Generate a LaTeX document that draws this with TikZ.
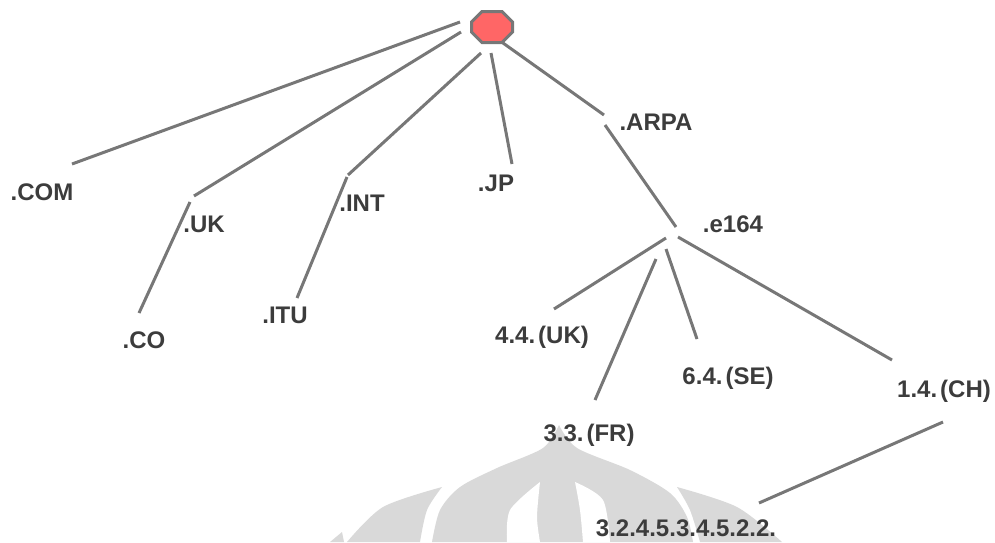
\documentclass[tikz,border=0pt]{standalone}
\usepackage{fontspec}
\setmainfont{Liberation Sans}
\definecolor{linegray}{HTML}{777777}
\definecolor{txtgray}{HTML}{3C3C3C}
\definecolor{wmgray}{HTML}{D9D9D9}
\definecolor{rootred}{HTML}{FF6666}
\begin{document}
\begin{tikzpicture}[x=1pt,y=-1pt,
  lbl/.style={text=txtgray,font=\fontsize{24}{27}\selectfont\bfseries,inner sep=0pt},
  edge/.style={draw=linegray,line width=3pt},
  rootbox/.style={minimum width=44pt,minimum height=33pt,inner sep=0pt},
  octa/.style={draw=linegray,line width=3pt,fill=rootred,line join=miter},
  wm/.style={fill=wmgray},
  wmhole/.style={fill=white}]
\useasboundingbox (0,0) rectangle (995,542);

% watermark
\fill[wm] plot[smooth] coordinates {(432,542) (440,510) (460,487) (497,468) (543,448) (559,425)}
  -- plot[smooth] coordinates {(559,425) (577,448) (630,470) (670,493) (687,517) (693,542)} -- cycle;
\fill[wmhole] plot[smooth] coordinates {(507,542) (510,510) (540,482)}
  -- plot[smooth] coordinates {(540,482) (537,517) (540,542)} -- cycle;
\fill[wmhole] plot[smooth] coordinates {(583,542) (580,510) (575,482)}
  -- plot[smooth] coordinates {(575,482) (603,500) (610,542)} -- cycle;
\fill[wm] plot[smooth] coordinates {(347,542) (383,507) (442,487)}
  -- plot[smooth] coordinates {(442,487) (427,510) (420,542)} -- cycle;
\fill[wm] plot[smooth] coordinates {(700,542) (690,510) (677,487)}
  -- plot[smooth] coordinates {(677,487) (737,507) (782,542)} -- cycle;
\fill[wm] (330,542) -- (342,532) -- (344,542) -- cycle;

% root
\node[rootbox] (root) at (492,27) {};
\draw[octa,shift={(root)}] (-10,-15.5) -- (10,-15.5) -- (20.5,-5) -- (20.5,5)
  -- (10,15.5) -- (-10,15.5) -- (-20.5,5) -- (-20.5,-5) -- cycle;

% labels
\node[lbl] (com) at (42,192) {.COM};
\node[lbl] (uk) at (204,224) {.UK};
\node[lbl] (co) at (144,340) {.CO};
\node[lbl] (int) at (362,203) {.INT};
\node[lbl] (itu) at (285,315) {.ITU};
\node[lbl] (jp) at (496,183) {.JP};
\node[lbl] (arpa) at (656,122) {.ARPA};
\node[lbl] (e164) at (733,224) {.e164};
\node[lbl] (ukf) at (542,337) {4.4.\hspace{3pt}(UK)};
\node[lbl] (se) at (728,378) {6.4.\hspace{3pt}(SE)};
\node[lbl] (ch) at (944,391) {1.4.\hspace{3pt}(CH)};
\node[lbl] (fr) at (589,435) {3.3.\hspace{3pt}(FR)};
\node[lbl] (num) at (686,528) {3.2.4.5.3.4.5.2.2.};

% connector end points
\coordinate (comA) at (460,22);  \coordinate (comB) at (72,164);
\coordinate (ukA) at (461,32);   \coordinate (ukB) at (194,196);
\coordinate (intA) at (481,53);  \coordinate (intB) at (348,175);
\coordinate (jpA) at (491,53);   \coordinate (jpB) at (512,164);
\coordinate (arA) at (503,43);   \coordinate (arB) at (604,115);
\coordinate (eA) at (605,125);   \coordinate (eB) at (676,227);
\coordinate (u4A) at (666,238);  \coordinate (u4B) at (554,309);
\coordinate (frA) at (656,259);  \coordinate (frB) at (595,400);
\coordinate (seA) at (666,249);  \coordinate (seB) at (697,339);
\coordinate (chA) at (678,237);  \coordinate (chB) at (892,360);
\coordinate (nA) at (943,422);   \coordinate (nB) at (759,503);
\coordinate (coA) at (190,202);  \coordinate (coB) at (139,313);
\coordinate (ituA) at (347,177); \coordinate (ituB) at (297,298);

% connectors
\draw[edge] (comA) -- (comB);
\draw[edge] (ukA) -- (ukB);
\draw[edge] (intA) -- (intB);
\draw[edge] (jpA) -- (jpB);
\draw[edge] (arA) -- (arB);
\draw[edge] (eA) -- (eB);
\draw[edge] (u4A) -- (u4B);
\draw[edge] (frA) -- (frB);
\draw[edge] (seA) -- (seB);
\draw[edge] (chA) -- (chB);
\draw[edge] (nA) -- (nB);
\draw[edge] (coA) -- (coB);
\draw[edge] (ituA) -- (ituB);
\end{tikzpicture}
\end{document}
